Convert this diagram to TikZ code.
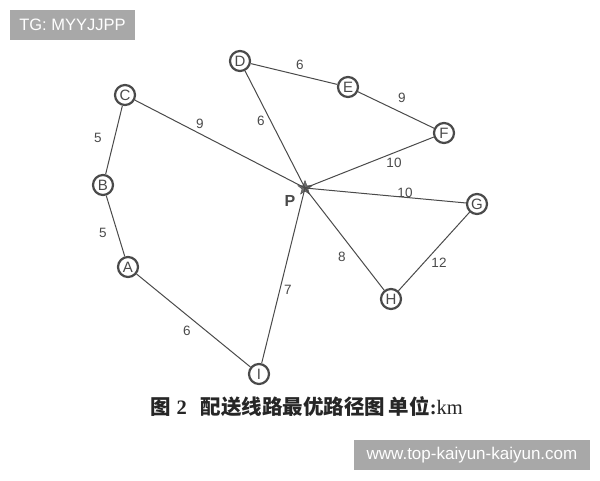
\documentclass[tikz,border=0pt]{standalone}
\usepackage{fontspec}
\setmainfont{Liberation Sans}
\newfontfamily\cjk{Noto Sans CJK SC}
\newfontfamily\serifk{Liberation Serif}
\usetikzlibrary{shapes.geometric}
\definecolor{ln}{HTML}{4A4A4A}
\definecolor{wm}{HTML}{A8A8A8}
\tikzset{
  stop/.style={circle,draw=ln,line width=2.2pt,minimum size=20pt,inner sep=0pt,font=\fontsize{15}{15}\selectfont,text=ln},
  edge/.style={draw=ln,line width=1pt},
  wlab/.style={font=\fontsize{13.5}{13.5}\selectfont,text=ln,inner sep=0pt}
}
\begin{document}
\begin{tikzpicture}[x=1pt,y=-1pt]
\useasboundingbox (0,0) rectangle (600,480);
\fill[white] (0,0) rectangle (600,480);
% watermark top
\node[fill=wm,text=white,minimum width=125pt,minimum height=30pt,inner sep=0pt,font=\fontsize{16.5}{16.5}\selectfont] (tg) at (72.5,25) {TG: MYYJJPP};
% nodes
\node[stop] (D) at (240,61) {D};
\node[stop] (E) at (348,87) {E};
\node[stop] (F) at (444,133) {F};
\node[stop] (C) at (125,95) {C};
\node[stop] (B) at (103,185) {B};
\node[stop] (A) at (128,267) {A};
\node[stop] (I) at (259,374) {I};
\node[stop] (H) at (391,299) {H};
\node[stop] (G) at (477,204) {G};
\node[star,star points=5,star point ratio=2.4,fill=ln!80,draw=ln,inner sep=0pt,minimum size=15pt] (P) at (305,188) {};
\node[font=\bfseries\fontsize{16}{16}\selectfont,text=ln] (Pl) at (290,201) {P};
% edges
\draw[edge] (D) -- (E);
\draw[edge] (E) -- (F);
\draw[edge] (C) -- (P.center);
\draw[edge] (D) -- (P.center);
\draw[edge] (F) -- (P.center);
\draw[edge] (G) -- (P.center);
\draw[edge] (C) -- (B);
\draw[edge] (B) -- (A);
\draw[edge] (A) -- (I);
\draw[edge] (I) -- (P.center);
\draw[edge] (H) -- (P.center);
\draw[edge] (G) -- (H);
% labels
\node[wlab] (l1) at (300,65) {6};
\node[wlab] (l2) at (402,98) {9};
\node[wlab] (l3) at (200,124) {9};
\node[wlab] (l4) at (261,121) {6};
\node[wlab] (l5) at (394,163) {10};
\node[wlab] (l6) at (405,193) {10};
\node[wlab] (l7) at (98,138) {5};
\node[wlab] (l8) at (103,233) {5};
\node[wlab] (l9) at (187,331) {6};
\node[wlab] (l10) at (288,290) {7};
\node[wlab] (l11) at (342,257) {8};
\node[wlab] (l12) at (439,263) {12};
% caption
\node[anchor=west,inner sep=0pt,text=black!85,font=\fontsize{20.5}{20.5}\selectfont] (cap) at (150,407) {{\cjk\bfseries 图}\hspace{6pt}{\serifk\bfseries 2}\hspace{14pt}{\cjk\bfseries 配送线路最优路径图\,单位}{\serifk\bfseries :}{\serifk km}};
% watermark bottom
\node[fill=wm,text=white,minimum width=236pt,minimum height=30pt,inner sep=0pt,font=\fontsize{17}{17}\selectfont] (url) at (472,455) {www.top-kaiyun-kaiyun.com};
\end{tikzpicture}
\end{document}
